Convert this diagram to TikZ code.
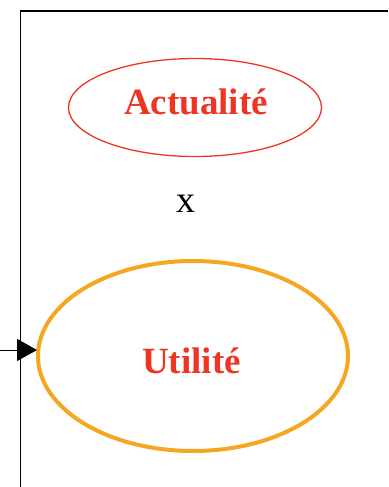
\documentclass[tikz,border=0pt]{standalone}
\usepackage{fontspec}
\setmainfont{Liberation Serif}
\usetikzlibrary{arrows.meta}
\definecolor{tred}{HTML}{EE3524}
\definecolor{torange}{HTML}{F5A623}
\tikzset{
  lbl/.style={text=tred, font=\fontsize{37}{42}\selectfont\bfseries, anchor=base},
  frame/.style={draw=black, line width=1.8pt},
}
\begin{document}
\begin{tikzpicture}[x=1pt,y=-1pt]
\useasboundingbox (0,0) rectangle (388,487);
\draw[frame] (20.5,487) -- (20.5,11) -- (388,11);
\draw[tred, line width=1.3pt] (195,107.5) ellipse [x radius=126.5, y radius=49];
\node[lbl] (act) at (196,114) {Actualité};
\node[font=\fontsize{38}{42}\selectfont, anchor=base] (x) at (186,212) {x};
\draw[torange, line width=4pt] (193,356) ellipse [x radius=155, y radius=95];
\coordinate (util-w) at (37,350);
\node[lbl] (util) at (191.5,373) {Utilité};
\coordinate (src) at (0,350);
\draw[line width=1pt, -{Triangle[length=20pt,width=22pt]}] (src) -- (util-w);
\end{tikzpicture}
\end{document}
